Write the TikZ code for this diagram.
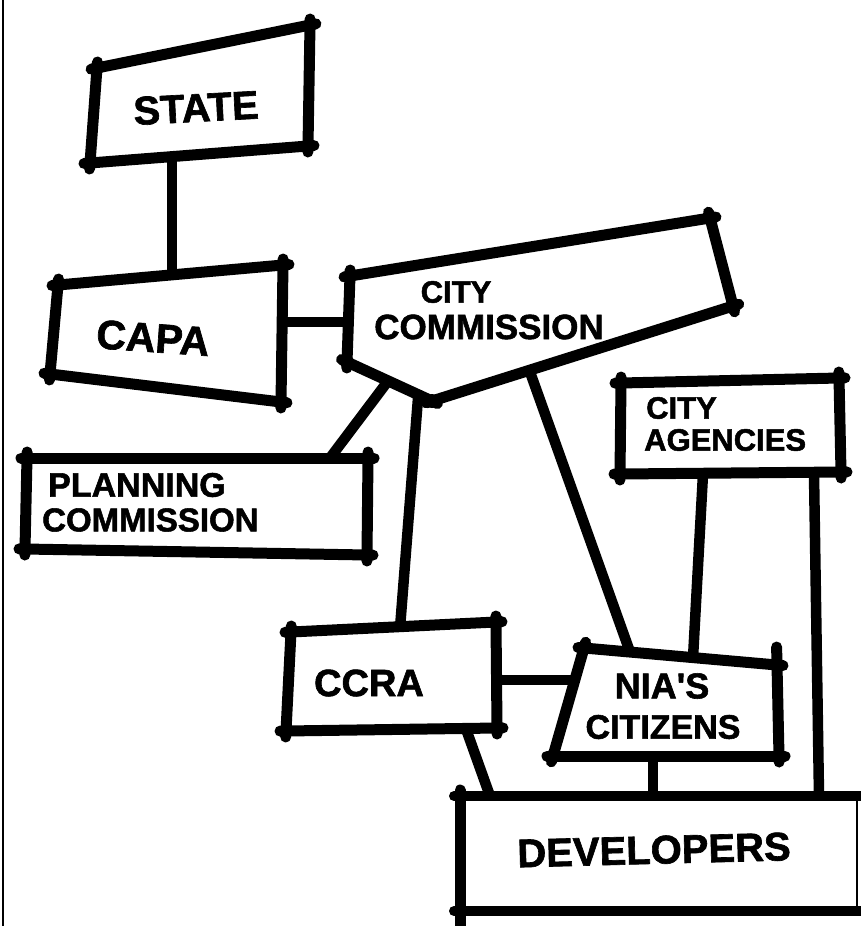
\documentclass[tikz,border=0pt]{standalone}
\usepackage{fontspec}
\newfontfamily\hand[FakeBold=1.6]{Liberation Sans}
\tikzset{
  ink/.style={draw=black, line width=11pt, line cap=round, line join=round},
  side/.style={ink, shorten <=-6pt, shorten >=-6pt},
  wire/.style={ink, line width=10.5pt, line cap=butt},
  lbl/.style={font=\hand\bfseries\fontsize{#1}{#1}\selectfont, inner sep=0pt},
  lbl/.default=34
}
\begin{document}
\begin{tikzpicture}[x=1pt,y=-1pt]
\useasboundingbox (0,0) rectangle (861,926);
\fill[white] (0,0) rectangle (861,926);
\coordinate (f1) at (3,0); \coordinate (f2) at (3,926);
\draw[line width=1.6pt] (f1) -- (f2);

% STATE
\coordinate (s1) at (97,68);  \coordinate (s2) at (310,25);
\coordinate (s3) at (308,146); \coordinate (s4) at (90,163);
% CAPA
\coordinate (c1) at (58,285);  \coordinate (c2) at (283,265);
\coordinate (c3) at (281,402); \coordinate (c4) at (50,374);
% CITY COMMISSION
\coordinate (k1) at (350,276); \coordinate (k2) at (710,218);
\coordinate (k3) at (733,306); \coordinate (k4) at (432,401);
\coordinate (k5) at (347,362);
% PLANNING COMMISSION
\coordinate (p1) at (27,458);  \coordinate (p2) at (368,458);
\coordinate (p3) at (367,555); \coordinate (p4) at (25,549);
% CITY AGENCIES
\coordinate (a1) at (621,383); \coordinate (a2) at (839,378);
\coordinate (a3) at (841,472); \coordinate (a4) at (620,474);
% CCRA
\coordinate (r1) at (291,632); \coordinate (r2) at (496,622);
\coordinate (r3) at (497,728); \coordinate (r4) at (286,731);
% NIA'S CITIZENS
\coordinate (n1) at (584,648); \coordinate (n2) at (777,665);
\coordinate (n3) at (779,756); \coordinate (n4) at (553,756);
% DEVELOPERS
\coordinate (d1) at (460,796); \coordinate (d2) at (870,796);
\coordinate (d3) at (870,911); \coordinate (d4) at (460,911);
\coordinate (d5) at (460,935);
\coordinate (d6) at (857,796); \coordinate (d7) at (857,911);

% boxes
\foreach \a/\b in {s1/s2,s2/s3,s3/s4,s4/s1,
                   c1/c2,c2/c3,c3/c4,c4/c1,
                   k1/k2,k2/k3,k3/k4,k4/k5,k5/k1,
                   p1/p2,p2/p3,p3/p4,p4/p1,
                   a1/a2,a2/a3,a3/a4,a4/a1,
                   r1/r2,r2/r3,r3/r4,r4/r1,
                   n1/n2,n3/n4,n4/n1}
  \draw[side] (\a) -- (\b);
\draw[side, shorten <=-18pt] (n2) -- (n3);
\draw[side, shorten >=0pt, line width=10pt] (d1) -- (d2);
\draw[side, shorten >=0pt, line width=10pt] (d4) -- (d3);
\draw[side, shorten >=0pt] (d1) -- (d5);
\draw[line width=2.5pt] (d6) -- (d7);
\foreach \p in {s1,s2,s3,s4,c1,c2,c3,c4,k1,k2,k3,k4,k5,p1,p2,p3,p4,
                a1,a2,a3,a4,r1,r2,r3,r4,n1,n2,n3,n4,d1,d4}
  \fill (\p) circle (7pt);

% connector end points
\coordinate (sca) at (172,156); \coordinate (scb) at (172,274);
\coordinate (cpa) at (283,322); \coordinate (cpb) at (347,322);
\coordinate (kpa) at (388,381); \coordinate (kpb) at (330,458);
\coordinate (kra) at (418,398); \coordinate (krb) at (400,628);
\coordinate (kna) at (530,372); \coordinate (knb) at (630,652);
\coordinate (ana) at (703,474); \coordinate (anb) at (693,658);
\coordinate (ada) at (814,474); \coordinate (adb) at (819,796);
\coordinate (rna) at (497,680); \coordinate (rnb) at (574,680);
\coordinate (rda) at (466,729); \coordinate (rdb) at (490,796);
\coordinate (nda) at (653,756); \coordinate (ndb) at (653,796);
\foreach \a/\b in {sca/scb,cpa/cpb,kpa/kpb,kra/krb,kna/knb,ana/anb,ada/adb,rna/rnb,rda/rdb,nda/ndb}
  \draw[wire] (\a) -- (\b);

% labels
\node[lbl=40, rotate=3] (tstate) at (196,108) {STATE};
\node[lbl=41, rotate=-4] (tcapa) at (153,338) {CAPA};
\node[lbl=31] (tcity) at (456,292) {CITY};
\node[lbl=35] (tcomm) at (489,327) {COMMISSION};
\node[lbl=34, anchor=west] (tplan1) at (48,485) {PLANNING};
\node[lbl=33, anchor=west] (tplan2) at (42,520) {COMMISSION};
\node[lbl=31, anchor=west] (tag1) at (646,408) {CITY};
\node[lbl=31, anchor=west] (tag2) at (644,440) {AGENCIES};
\node[lbl=38] (tccra) at (369,683) {CCRA};
\node[lbl=36] (tnia) at (662,686) {NIA'S};
\node[lbl=34] (tcit) at (663,727) {CITIZENS};
\node[lbl=40, rotate=1.5] (tdev) at (654,850) {DEVELOPERS};
\end{tikzpicture}
\end{document}
